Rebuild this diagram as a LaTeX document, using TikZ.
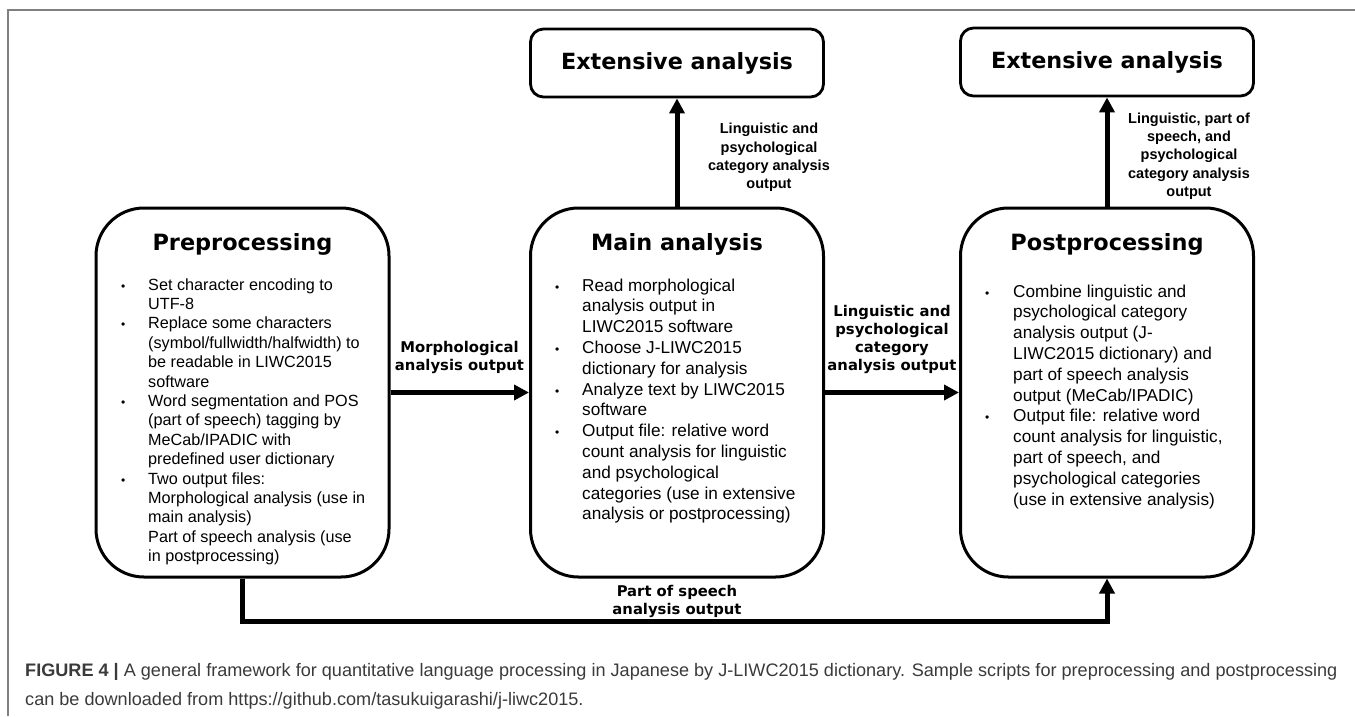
\documentclass[tikz,border=0pt]{standalone}
\usepackage{fontspec}
\setmainfont{Liberation Sans}
\newfontfamily\heavyfont{DejaVu Sans}
\usetikzlibrary{arrows.meta}
\definecolor{capgray}{HTML}{3A3A3A}
\definecolor{framegray}{HTML}{808080}
\newcommand{\bulletdot}{{\fontsize{12}{12}\selectfont •}}
\begin{document}
\begin{tikzpicture}[x=1pt,y=-1pt,
  bigbox/.style={draw, line width=3pt, rounded corners=48pt, minimum width=293pt, minimum height=369pt, inner sep=0pt},
  extbox/.style={draw, line width=2.8pt, rounded corners=13pt, minimum width=293pt, minimum height=68pt, inner sep=0pt, font=\heavyfont\bfseries\fontsize{22.3}{26}\selectfont},
  boxtitle/.style={anchor=base, inner sep=0pt, font=\heavyfont\bfseries\fontsize{22.4}{25}\selectfont},
  prebody/.style={anchor=base west, inner sep=0pt, font=\fontsize{16.2}{19.4}\selectfont},
  mainbody/.style={anchor=base west, inner sep=0pt, font=\fontsize{17.2}{20.8}\selectfont},
  toplabel/.style={align=center, inner sep=0pt, font=\fontsize{14.5}{18.3}\selectfont\bfseries},
  sidelabel/.style={align=center, inner sep=0pt, font=\heavyfont\bfseries\fontsize{14.8}{18}\selectfont},
  arr/.style={line width=5pt, -{Triangle[length=15pt,width=15pt]}},
  capline/.style={anchor=base west, inner sep=0pt, text=capgray, font=\fontsize{18.1}{20}\selectfont}
]
\useasboundingbox (0,0) rectangle (1355,716);
\draw[framegray, line width=1.5pt] (8,716) -- (8,10) -- (1355,10);

% boxes
\node[bigbox] (pre) at (242.5,392.5) {};
\node[bigbox] (main) at (677,392.5) {};
\node[bigbox] (post) at (1107,392.5) {};
\node[extbox] (ext1) at (677,63) {Extensive analysis};
\node[extbox] (ext2) at (1107,62) {Extensive analysis};

% titles
\node[boxtitle] (pretitle) at (242.5,250) {Preprocessing};
\node[boxtitle] (maintitle) at (677,250) {Main analysis};
\node[boxtitle] (posttitle) at (1107,250) {Postprocessing};

% bodies
\node[prebody] (pretext) at (121,290) {\begin{tabular}[t]{@{}p{27pt}@{}l@{}}
\bulletdot & Set character encoding to\\
 & UTF-8\\
\bulletdot & Replace some characters\\
 & (symbol/fullwidth/halfwidth) to\\
 & be readable in LIWC2015\\
 & software\\
\bulletdot & Word segmentation and POS\\
 & (part of speech) tagging by\\
 & MeCab/IPADIC with\\
 & predefined user dictionary\\
\bulletdot & Two output files:\\
 & Morphological analysis (use in\\
 & main analysis)\\
 & Part of speech analysis (use\\
 & in postprocessing)
\end{tabular}};

\node[mainbody] (maintext) at (555,291) {\begin{tabular}[t]{@{}p{27pt}@{}l@{}}
\bulletdot & Read morphological\\
 & analysis output in\\
 & LIWC2015 software\\
\bulletdot & Choose J-LIWC2015\\
 & dictionary for analysis\\
\bulletdot & Analyze text by LIWC2015\\
 & software\\
\bulletdot & Output file: relative word\\
 & count analysis for linguistic\\
 & and psychological\\
 & categories (use in extensive\\
 & analysis or postprocessing)
\end{tabular}};

\node[mainbody] (posttext) at (985,297) {\begin{tabular}[t]{@{}p{28pt}@{}l@{}}
\bulletdot & Combine linguistic and\\
 & psychological category\\
 & analysis output (J-\\
 & LIWC2015 dictionary) and\\
 & part of speech analysis\\
 & output (MeCab/IPADIC)\\
\bulletdot & Output file: relative word\\
 & count analysis for linguistic,\\
 & part of speech, and\\
 & psychological categories\\
 & (use in extensive analysis)
\end{tabular}};

% connectors
\draw[arr] (pre) -- (main);
\draw[arr] (main) -- (post);
\draw[arr] (main) -- (ext1);
\draw[arr] (post) -- (ext2);
\coordinate (bend) at (242.5,621);
\draw[arr] (pre.south) -- (bend) -| (post.south);

% labels
\node[sidelabel] (lblmorph) at (459.5,357) {Morphological\\analysis output};
\node[sidelabel] (lblling) at (892,339) {Linguistic and\\psychological\\category\\analysis output};
\node[sidelabel] (lblpos) at (677,601) {Part of speech\\analysis output};
\node[toplabel] (lbltop1) at (769,157.5) {Linguistic and\\psychological\\category analysis\\output};
\node[toplabel] (lbltop2) at (1189,156) {Linguistic, part of\\speech, and\\psychological\\category analysis\\output};

% caption
\node[capline] (cap1) at (25,676) {{\bfseries FIGURE 4 |} A general framework for quantitative language processing in Japanese by J-LIWC2015 dictionary. Sample scripts for preprocessing and postprocessing};
\node[capline] (cap2) at (25,705) {can be downloaded from https://github.com/tasukuigarashi/j-liwc2015.};
\end{tikzpicture}
\end{document}
